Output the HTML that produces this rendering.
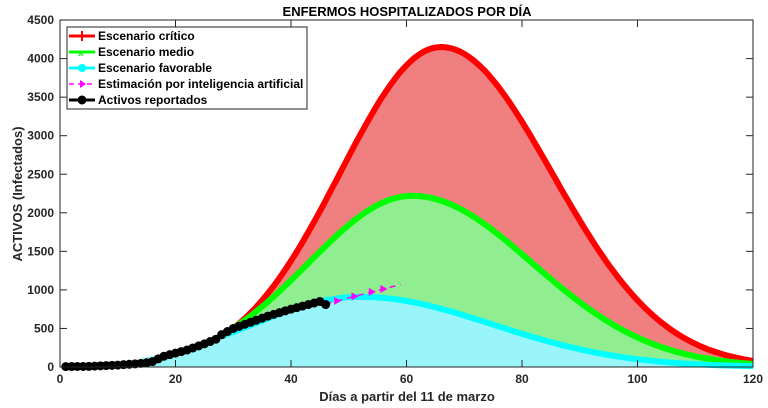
<!DOCTYPE html>
<html><head><meta charset="utf-8"><style>
body{margin:0;background:#fff;}
svg{display:block;font-family:"Liberation Sans",sans-serif;}
</style></head><body>
<svg id="s" width="768" height="408" xmlns="http://www.w3.org/2000/svg">
<rect width="768" height="408" fill="#fff"/>
<g id="plot"></g>
<rect x="60" y="20" width="693" height="347" fill="none" stroke="#262626" stroke-width="1"/>
<g id="ticks" stroke="#262626" stroke-width="1"></g>
<g font-size="12" font-weight="bold" fill="#262626" id="lbl"></g>
<text x="407" y="16" font-size="13" font-weight="bold" text-anchor="middle" fill="#000">ENFERMOS HOSPITALIZADOS POR DÍA</text>
<text x="407" y="401" font-size="13" font-weight="bold" text-anchor="middle" fill="#262626">Días a partir del 11 de marzo</text>
<text transform="translate(22,194) rotate(-90)" font-size="13" font-weight="bold" text-anchor="middle" fill="#262626">ACTIVOS (Infectados)</text>
<g>
<rect x="67" y="27" width="240" height="82" fill="#fff" stroke="#262626" stroke-width="1"/>
<g font-size="12" font-weight="bold" fill="#000">
<line x1="69" y1="36" x2="95" y2="36" stroke="#f00" stroke-width="3"/><line x1="82" y1="31" x2="82" y2="41" stroke="#f00" stroke-width="2"/>
<text x="98" y="40">Escenario crítico</text>
<line x1="69" y1="52" x2="95" y2="52" stroke="#0f0" stroke-width="3"/><text x="78" y="56" font-size="10" fill="#0f0">x</text>
<text x="98" y="56">Escenario medio</text>
<line x1="69" y1="68" x2="95" y2="68" stroke="#0ff" stroke-width="3"/><circle cx="82" cy="68" r="4" fill="#0ff"/>
<text x="98" y="72">Escenario favorable</text>
<line x1="69" y1="84" x2="95" y2="84" stroke="#f0f" stroke-width="1.5" stroke-dasharray="5,4"/><path d="M80 80 L86 84 L80 88Z" fill="#f0f"/>
<text x="98" y="88">Estimación por inteligencia artificial</text>
<line x1="69" y1="100" x2="95" y2="100" stroke="#000" stroke-width="3"/><circle cx="82" cy="100" r="4.5" fill="#000"/>
<text x="98" y="104">Activos reportados</text>
</g></g>
</svg>
<script>
var X=d=>60+d*5.775, Y=v=>367-v*0.0771;
var NS="http://www.w3.org/2000/svg";
function el(t,a,p){var e=document.createElementNS(NS,t);for(var k in a)e.setAttribute(k,a[k]);(p||document.getElementById('plot')).appendChild(e);return e;}
function g(A,m,sl,sr){return d=>A*Math.exp(-Math.pow(d-m,2)/(2*Math.pow(d<m?sl:sr,2)));}
var cr=g(4150,66,17.5,19.2), md=g(2220,61,18,20.8), fv=g(910,52,18.7,22.9);
function path(f,a,b,close){var s="";for(var d=a;d<=b;d+=0.5){s+=(s?"L":"M")+X(d).toFixed(1)+" "+Y(f(d)).toFixed(1);}if(close)s+="L"+X(b)+" "+Y(0)+"L"+X(a)+" "+Y(0)+"Z";return s;}
el('path',{d:path(cr,14,120,1),fill:'#f08080'});
el('path',{d:path(md,14,120,1),fill:'#90ee90'});
el('path',{d:path(fv,14,120,1),fill:'#99f5fa'});
el('path',{d:path(cr,28,120),fill:'none',stroke:'#f00','stroke-width':6});
el('path',{d:path(md,28,120),fill:'none',stroke:'#0f0','stroke-width':6});
el('path',{d:path(fv,28,120),fill:'none',stroke:'#0ff','stroke-width':6});
el('line',{x1:X(46),y1:Y(820),x2:X(59),y2:Y(1070),stroke:'#f0f','stroke-width':1.5,'stroke-dasharray':'6,5'});
[48,51,54,56].forEach(d=>{var v=820+(d-46)*250/13,x=X(d),y=Y(v);el('path',{d:`M${x-3} ${y-4}L${x+4} ${y}L${x-3} ${y+4}Z`,fill:'#f0f'});});
var pts=[[1,5],[5,8],[10,25],[13,40],[15,55],[16,70],[18,140],[20,180],[22,220],[25,300],[27,360],[28,420],[30,500],[33,580],[36,660],[40,750],[43,810],[44,830],[45,850],[46,810]];
function interp(d){for(var i=0;i<pts.length-1;i++)if(d<=pts[i+1][0]){var a=pts[i],b=pts[i+1];return a[1]+(b[1]-a[1])*(d-a[0])/(b[0]-a[0]);}return 810;}
var s="";for(var d=1;d<=46;d++){s+=(s?"L":"M")+X(d)+" "+Y(interp(d));}
el('path',{d:s,fill:'none',stroke:'#000','stroke-width':3});
for(var d=1;d<=46;d++)el('circle',{cx:X(d),cy:Y(interp(d)),r:4.5,fill:'#000'});
var T=document.getElementById('ticks'),L=document.getElementById('lbl');
for(var i=0;i<=120;i+=20){var x=X(i);el('line',{x1:x,y1:367,x2:x,y2:360},T);el('line',{x1:x,y1:20,x2:x,y2:27},T);var t=el('text',{x:x,y:383,'text-anchor':'middle'},L);t.textContent=i;}
for(var v=0;v<=4500;v+=500){var y=Y(v);el('line',{x1:60,y1:y,x2:67,y2:y},T);el('line',{x1:753,y1:y,x2:746,y2:y},T);var t=el('text',{x:54,y:y+4,'text-anchor':'end'},L);t.textContent=v;}
</script>
</body></html>
